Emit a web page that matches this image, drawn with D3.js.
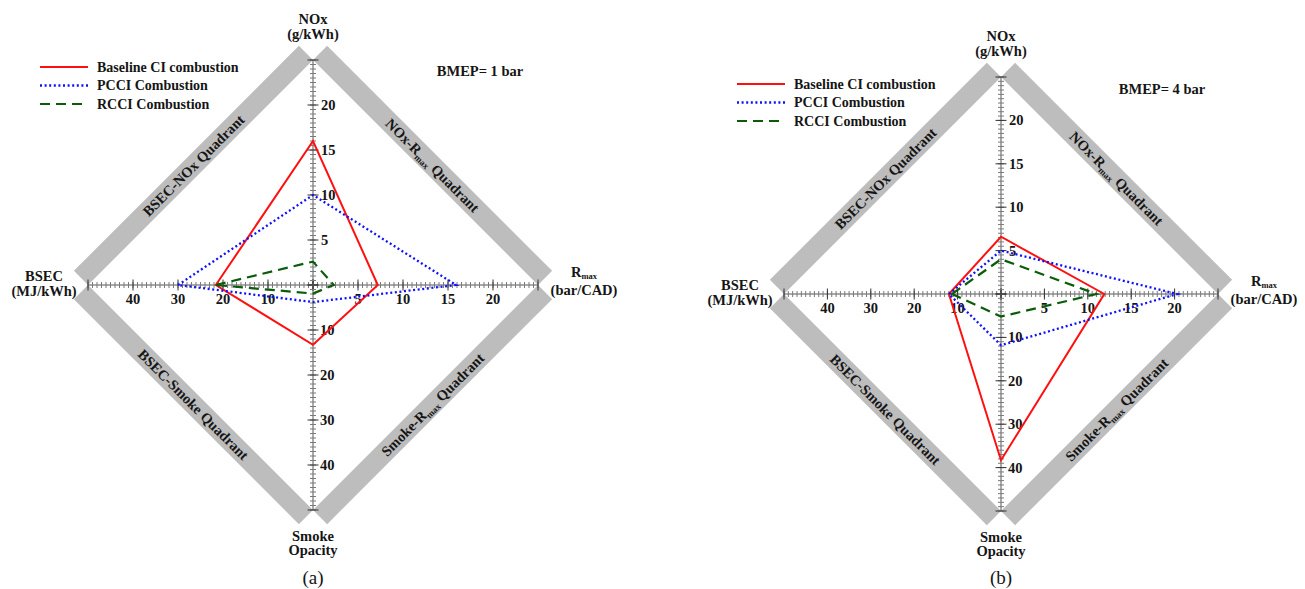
<!DOCTYPE html>
<html>
<head>
<meta charset="utf-8">
<script src="https://cdn.jsdelivr.net/npm/d3@7"></script>
<style>
  html, body { margin: 0; padding: 0; background: #ffffff; }
  svg { display: block; font-family: 'Liberation Serif', 'DejaVu Serif', serif; }
</style>
</head>
<body>
<div id="chart"></div>
<script>
// axis order round the diamond: left, top, right, bottom
const axisNames = ['BSEC', 'NOx', 'Rmax', 'Smoke']
const axisMax = [50, 25, 25, 50]
const bsecLabels = [10, 20, 30, 40]
const noxLabels = [5, 10, 15, 20]
const rmaxLabels = [5, 10, 15, 20]
const smokeLabels = [10, 20, 30, 40]

const seriesNames = ['Baseline CI combustion', 'PCCI Combustion', 'RCCI Combustion']

// values in axis order [BSEC, NOx, Rmax, Smoke]
// (a) BMEP = 1 bar
const baselineA = [21.6, 16.0, 7.2, 13.3]
const pcciA = [30.0, 10.0, 15.9, 3.8]
const rcciA = [21.6, 2.6, 2.3, 1.9]
// (b) BMEP = 4 bar
const baselineB = [12.0, 6.6, 11.9, 38.3]
const pcciB = [12.0, 5.0, 20.3, 11.8]
const rcciB = [11.3, 4.0, 11.0, 5.2]

const styles = [
  { color: '#ff1010', dash: null, width: 2 },
  { color: '#1010ff', dash: '2,2.6', width: 2.3 },
  { color: '#0a5c0a', dash: '10,6', width: 2.2 }
]

const panels = [
  { cx: 313, cy: 285, r: 225, tag: '(a)', bmep: 'BMEP= 1 bar', bx: 480, by: 76,
    lx: 40, ly: 67, series: [baselineA, pcciA, rcciA] },
  { cx: 1001, cy: 294, r: 217, tag: '(b)', bmep: 'BMEP= 4 bar', bx: 1162, by: 94,
    lx: 737, ly: 84, series: [baselineB, pcciB, rcciB] }
]

const W = 1305
const H = 589
const svg = d3.select('#chart').append('svg')
  .attr('width', W)
  .attr('height', H)

const bandW = 20
const fontSize = 14.5

function drawPanel(p) {
  const g = svg.append('g')
  const cx = p.cx
  const cy = p.cy
  const r = p.r

  // one scale per direction
  const xBsec = d3.scaleLinear().domain([0, axisMax[0]]).range([cx, cx - r])
  const yNox = d3.scaleLinear().domain([0, axisMax[1]]).range([cy, cy - r])
  const xRmax = d3.scaleLinear().domain([0, axisMax[2]]).range([cx, cx + r])
  const ySmoke = d3.scaleLinear().domain([0, axisMax[3]]).range([cy, cy + r])

  const ends = [
    [xBsec(axisMax[0]), cy], [cx, yNox(axisMax[1])],
    [xRmax(axisMax[2]), cy], [cx, ySmoke(axisMax[3])]
  ]

  // grey quadrant bands
  const bands = [
    { a: 0, b: 1, text: ['BSEC-NOx Quadrant'] },
    { a: 1, b: 2, text: ['NOx-R', 'max', ' Quadrant'] },
    { a: 0, b: 3, text: ['BSEC-Smoke Quadrant'] },
    { a: 3, b: 2, text: ['Smoke-R', 'max', ' Quadrant'] }
  ]
  bands.forEach(bd => {
    const A = ends[bd.a]
    const B = ends[bd.b]
    const mx = (A[0] + B[0]) / 2
    const my = (A[1] + B[1]) / 2
    let nx = mx - cx
    let ny = my - cy
    const len = Math.hypot(nx, ny)
    nx /= len
    ny /= len
    const pts = [A, B, [B[0] + bandW * nx, B[1] + bandW * ny], [A[0] + bandW * nx, A[1] + bandW * ny]]
    g.append('path')
      .attr('d', 'M' + pts.map(q => q.join(',')).join('L') + 'Z')
      .attr('fill', '#bdbdbd')
    const ang = Math.atan2(B[1] - A[1], B[0] - A[0]) * 180 / Math.PI
    const t = g.append('text')
      .attr('transform', `translate(${mx + nx * bandW / 2},${my + ny * bandW / 2}) rotate(${ang})`)
      .attr('text-anchor', 'middle')
      .attr('dy', '0.35em')
      .style('font-size', fontSize + 'px')
      .style('font-weight', 'bold')
      .attr('fill', '#151515')
    if (bd.text.length === 1) {
      t.text(bd.text[0])
    } else {
      t.append('tspan').text(bd.text[0])
      t.append('tspan').attr('dy', 3).style('font-size', '9px').text(bd.text[1])
      t.append('tspan').attr('dy', -3).text(bd.text[2])
    }
  })

  // axes
  const ax = g.append('g').attr('stroke', '#555').attr('stroke-width', 1)
  ax.append('line').attr('x1', ends[0][0]).attr('x2', ends[2][0]).attr('y1', cy).attr('y2', cy)
  ax.append('line').attr('x1', cx).attr('x2', cx).attr('y1', ends[1][1]).attr('y2', ends[3][1])

  function hTicks(scale, max, minorStep) {
    const minor = d3.range(0, max + 1e-6, minorStep)
    ax.selectAll(null).data(minor).enter().append('line')
      .attr('x1', d => scale(d)).attr('x2', d => scale(d))
      .attr('y1', cy - 3).attr('y2', cy + 3)
      .attr('stroke', '#7a7a7a')
    ax.selectAll(null).data(scale.ticks(5)).enter().append('line')
      .attr('x1', d => scale(d)).attr('x2', d => scale(d))
      .attr('y1', cy - 5.5).attr('y2', cy + 5.5)
      .attr('stroke', '#333')
  }
  function vTicks(scale, max, minorStep) {
    const minor = d3.range(0, max + 1e-6, minorStep)
    ax.selectAll(null).data(minor).enter().append('line')
      .attr('y1', d => scale(d)).attr('y2', d => scale(d))
      .attr('x1', cx - 3).attr('x2', cx + 3)
      .attr('stroke', '#7a7a7a')
    ax.selectAll(null).data(scale.ticks(5)).enter().append('line')
      .attr('y1', d => scale(d)).attr('y2', d => scale(d))
      .attr('x1', cx - 5.5).attr('x2', cx + 5.5)
      .attr('stroke', '#333')
  }
  hTicks(xBsec, axisMax[0], 1)
  hTicks(xRmax, axisMax[2], 0.5)
  vTicks(yNox, axisMax[1], 0.5)
  vTicks(ySmoke, axisMax[3], 1)

  const lab = g.append('g')
    .style('font-size', fontSize + 'px')
    .style('font-weight', 'bold')
    .attr('fill', '#151515')
  lab.selectAll(null).data(bsecLabels).enter().append('text')
    .attr('x', d => xBsec(d)).attr('y', cy + 19).attr('text-anchor', 'middle').text(d => d)
  lab.selectAll(null).data(rmaxLabels).enter().append('text')
    .attr('x', d => xRmax(d)).attr('y', cy + 19).attr('text-anchor', 'middle').text(d => d)
  lab.selectAll(null).data(noxLabels).enter().append('text')
    .attr('x', cx + 8).attr('y', d => yNox(d)).attr('dy', '0.35em').text(d => d)
  lab.selectAll(null).data(smokeLabels).enter().append('text')
    .attr('x', cx + 7).attr('y', d => ySmoke(d)).attr('dy', '0.35em').text(d => d)

  // series polygons
  const line = d3.line().curve(d3.curveLinearClosed)
  p.series.forEach((vals, i) => {
    const pts = [
      [xBsec(vals[0]), cy], [cx, yNox(vals[1])],
      [xRmax(vals[2]), cy], [cx, ySmoke(vals[3])]
    ]
    g.append('path')
      .attr('d', line(pts))
      .attr('fill', 'none')
      .attr('stroke', styles[i].color)
      .attr('stroke-width', styles[i].width)
      .attr('stroke-dasharray', styles[i].dash)
  })

  // axis titles
  const top = ends[1][1]
  const bottom = ends[3][1]
  lab.append('text').attr('x', cx).attr('y', top - 36).attr('text-anchor', 'middle').text('NOx')
  lab.append('text').attr('x', cx).attr('y', top - 21).attr('text-anchor', 'middle').text('(g/kWh)')
  lab.append('text').attr('x', ends[0][0] - 44).attr('y', cy - 4).attr('text-anchor', 'middle').text('BSEC')
  lab.append('text').attr('x', ends[0][0] - 44).attr('y', cy + 11).attr('text-anchor', 'middle').text('(MJ/kWh)')
  const rt = lab.append('text').attr('x', ends[2][0] + 46).attr('y', cy - 8).attr('text-anchor', 'middle')
  rt.append('tspan').text('R')
  rt.append('tspan').attr('dy', 2).style('font-size', '8.5px').text('max')
  lab.append('text').attr('x', ends[2][0] + 46).attr('y', cy + 10).attr('text-anchor', 'middle').text('(bar/CAD)')
  lab.append('text').attr('x', cx).attr('y', bottom + 31).attr('text-anchor', 'middle').text('Smoke')
  lab.append('text').attr('x', cx).attr('y', bottom + 45).attr('text-anchor', 'middle').text('Opacity')

  lab.append('text').attr('x', p.bx).attr('y', p.by).attr('text-anchor', 'middle').text(p.bmep)

  g.append('text')
    .attr('x', cx).attr('y', 584)
    .attr('text-anchor', 'middle')
    .style('font-size', '19px')
    .attr('fill', '#151515')
    .text(p.tag)

  // legend
  const lg = g.append('g').attr('transform', `translate(${p.lx},${p.ly})`)
  const item = lg.selectAll('g.item').data(seriesNames).enter()
    .append('g')
    .classed('item', true)
    .attr('transform', (d, i) => `translate(0,${i * 18.5})`)
  item.append('line')
    .attr('x1', 0).attr('x2', 48)
    .attr('stroke', (d, i) => styles[i].color)
    .attr('stroke-width', (d, i) => styles[i].width)
    .attr('stroke-dasharray', (d, i) => styles[i].dash)
  item.append('text')
    .attr('x', 57)
    .attr('dy', '0.35em')
    .style('font-size', '14px')
    .style('font-weight', 'bold')
    .attr('fill', '#151515')
    .text(d => d)
}

panels.forEach(drawPanel)
</script>
</body>
</html>
